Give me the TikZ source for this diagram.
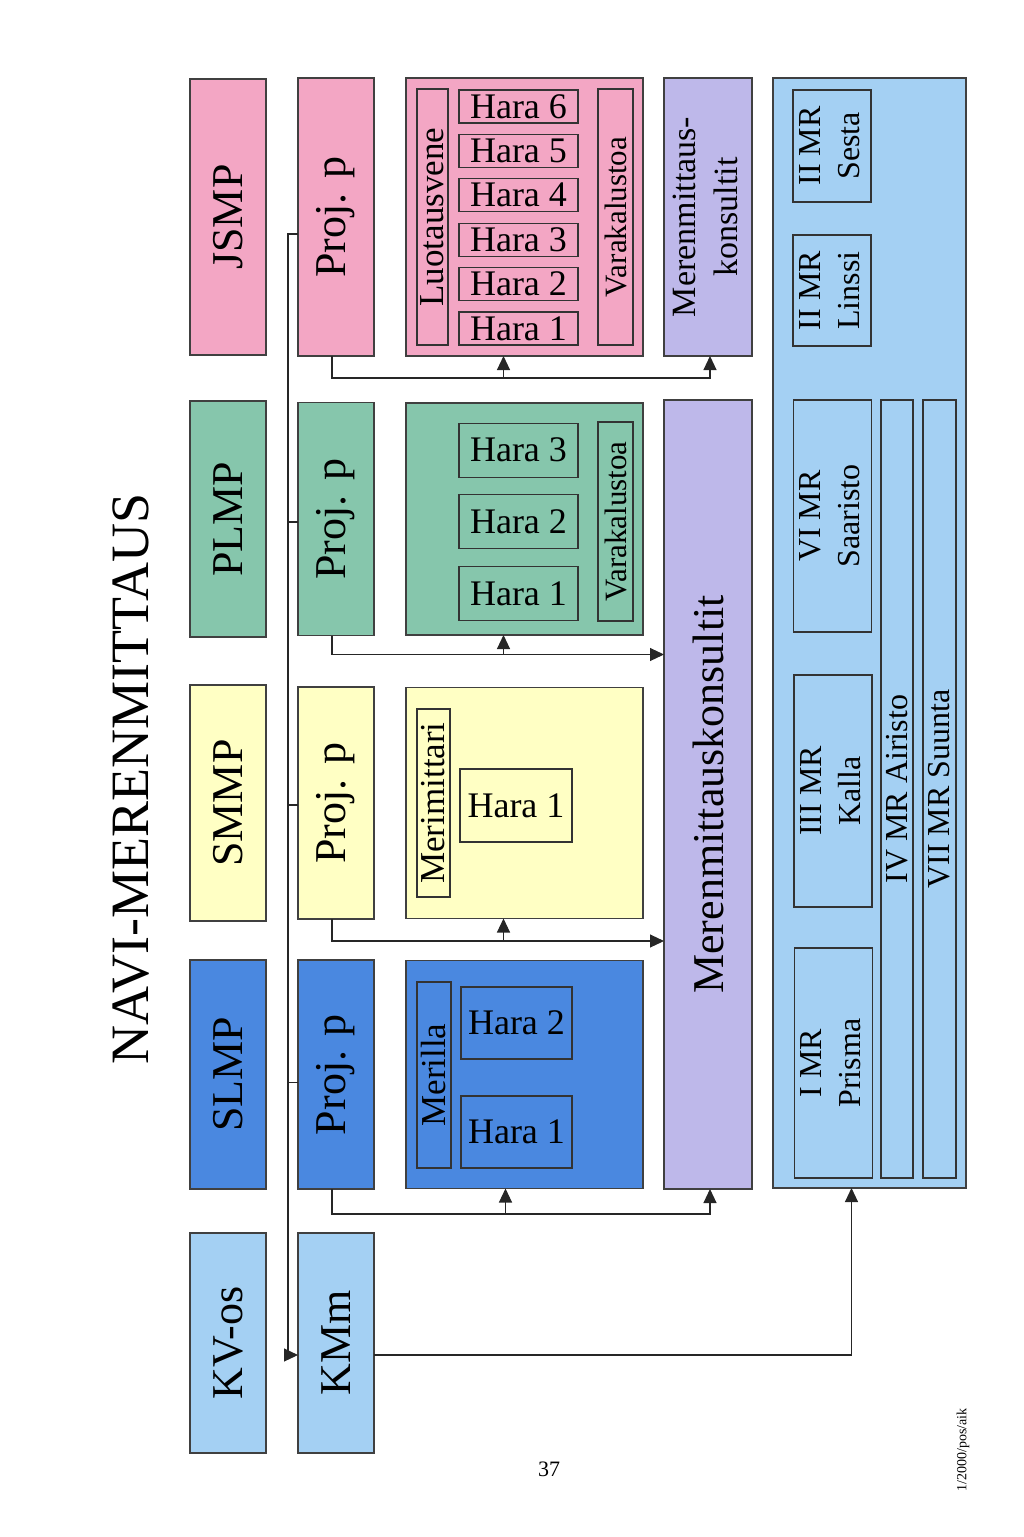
\documentclass[tikz,border=0pt]{standalone}
\usepackage{fontspec}
\setmainfont{Liberation Serif}
\usetikzlibrary{positioning, arrows.meta}
\definecolor{jspink}{RGB}{243,166,196}
\definecolor{plgreen}{RGB}{134,198,172}
\definecolor{smyellow}{RGB}{255,255,196}
\definecolor{slblue}{RGB}{74,136,224}
\definecolor{kvblue}{RGB}{164,208,243}
\definecolor{kolila}{RGB}{190,184,234}
\begin{document}
\begin{tikzpicture}[x=1pt, y=1pt,
  box/.style={draw=black!75, line width=1.2pt, inner sep=0pt, outer sep=0pt},
  top/.style={box, minimum width=76pt, font=\fontsize{44}{50}\selectfont},
  sub/.style={draw=black!80, line width=1.1pt, inner sep=0pt, outer sep=0pt},
  hara/.style={sub, font=\fontsize{36}{40}\selectfont},
  mrbox/.style={sub, font=\fontsize{32}{39}\selectfont},
  arr/.style={-{Triangle[length=14pt,width=13pt]}, line width=1.1pt, draw=black!85}]
  \useasboundingbox (0,0) rectangle (1024,-1537);

  \node[font=\fontsize{54}{60}\selectfont] (title) at (131,-779) {\rotatebox{90}{NAVI-MERENMITTAUS}};

  % main units
  \node[top, fill=jspink, minimum height=276pt] (jsmp) at (228,-217) {\rotatebox{90}{JSMP}};
  \node[top, fill=plgreen, minimum height=236pt] (plmp) at (228,-519) {\rotatebox{90}{PLMP}};
  \node[top, fill=smyellow, minimum height=236pt] (smmp) at (228,-803) {\rotatebox{90}{SMMP}};
  \node[top, fill=slblue, minimum height=229pt] (slmp) at (228,-1074.5) {\rotatebox{90}{SLMP}};
  \node[top, fill=kvblue, minimum height=220pt] (kvos) at (228,-1343) {\rotatebox{90}{KV-os}};

  % project managers
  \node[top, fill=jspink, minimum height=278pt, right=32pt of jsmp] (jsmpp) {\rotatebox{90}{Proj. p}};
  \node[top, fill=plgreen, minimum height=233pt, right=32pt of plmp] (plmpp) {\rotatebox{90}{Proj. p}};
  \node[top, fill=smyellow, minimum height=232pt, right=32pt of smmp] (smmpp) {\rotatebox{90}{Proj. p}};
  \node[top, fill=slblue, minimum height=229pt, right=32pt of slmp] (slmpp) {\rotatebox{90}{Proj. p}};
  \node[top, fill=kvblue, minimum height=220pt, right=32pt of kvos] (kmm) {\rotatebox{90}{KMm}};

  % vessels
  \node[box, fill=jspink, minimum width=237pt, minimum height=278pt, right=32pt of jsmpp] (jsmpu) {};
  \node[box, fill=plgreen, minimum width=237pt, minimum height=232pt, right=32pt of plmpp] (plmpu) {};
  \node[box, fill=smyellow, minimum width=237pt, minimum height=231pt, right=32pt of smmpp] (smmpu) {};
  \node[box, fill=slblue, minimum width=237pt, minimum height=228pt, right=32pt of slmpp] (slmpu) {};

  % JSMP vessels
  \node[sub, minimum width=31pt, minimum height=256pt, font=\fontsize{35}{40}\selectfont] (jluot) at (432.5,-217) {\rotatebox{90}{Luotausvene}};
  \foreach \i in {1,...,6}
    \node[hara, minimum width=119pt, minimum height=33pt] (jhara\i) at (518.5,{-328.5+44.4*(\i-1)}) {Hara \i};
  \node[sub, minimum width=35pt, minimum height=256pt, font=\fontsize{31}{36}\selectfont] (jvara) at (615.5,-217) {\rotatebox{90}{Varakalustoa}};

  % PLMP vessels
  \foreach \i in {1,2,3}
    \node[hara, minimum width=119pt, minimum height=54pt] (phara\i) at (518.5,{-593.5+71.7*(\i-1)}) {Hara \i};
  \node[sub, minimum width=35pt, minimum height=199pt, font=\fontsize{31}{36}\selectfont] (pvara) at (615.5,-521.5) {\rotatebox{90}{Varakalustoa}};

  % SMMP vessels
  \node[sub, minimum width=33pt, minimum height=188pt, font=\fontsize{35}{40}\selectfont] (smeri) at (433.5,-803) {\rotatebox{90}{Merimittari}};
  \node[hara, minimum width=112pt, minimum height=73pt] (shara1) at (516,-805.5) {Hara 1};

  % SLMP vessels
  \node[sub, minimum width=34pt, minimum height=186pt, font=\fontsize{35}{40}\selectfont] (lmeri) at (434,-1075) {\rotatebox{90}{Merilla}};
  \node[hara, minimum width=111pt, minimum height=72pt] (lhara2) at (516.5,-1023) {Hara 2};
  \node[hara, minimum width=111pt, minimum height=72pt] (lhara1) at (516.5,-1132) {Hara 1};

  % consultants
  \node[box, fill=kolila, minimum width=88pt, minimum height=278pt, font=\fontsize{34}{42}\selectfont] (jsmpk) at (708,-217) {\rotatebox{90}{\begin{tabular}{@{}c@{}}Merenmittaus-\\konsultit\end{tabular}}};
  \node[box, fill=kolila, minimum width=88pt, minimum height=789pt, font=\fontsize{44}{50}\selectfont] (konsult) at (708,-794.5) {\rotatebox{90}{Merenmittauskonsultit}};

  % survey vessels
  \node[box, fill=kvblue, minimum width=193pt, minimum height=1110pt] (mr) at (869.5,-633) {};
  \node[mrbox, minimum width=76pt, minimum height=112pt] (sesta) at (832,-146) {\rotatebox{90}{\begin{tabular}{@{}c@{}}II MR\\Sesta\end{tabular}}};
  \node[mrbox, minimum width=76pt, minimum height=111pt] (linssi) at (832,-290.5) {\rotatebox{90}{\begin{tabular}{@{}c@{}}II MR\\Linssi\end{tabular}}};
  \node[mrbox, minimum width=77pt, minimum height=232pt] (saaristo) at (832.5,-516) {\rotatebox{90}{\begin{tabular}{@{}c@{}}VI MR\\Saaristo\end{tabular}}};
  \node[mrbox, minimum width=76pt, minimum height=232pt] (kalla) at (833,-791) {\rotatebox{90}{\begin{tabular}{@{}c@{}}III MR\\Kalla\end{tabular}}};
  \node[mrbox, minimum width=77pt, minimum height=230pt] (prisma) at (833.5,-1063) {\rotatebox{90}{\begin{tabular}{@{}c@{}}I MR\\Prisma\end{tabular}}};
  \node[mrbox, minimum width=32pt, minimum height=778pt] (airisto) at (897,-789) {\rotatebox{90}{IV MR Airisto}};
  \node[mrbox, minimum width=33pt, minimum height=778pt] (suunta) at (939.5,-789) {\rotatebox{90}{VII MR Suunta}};

  % bus to KMm
  \draw[arr] ([yshift=-17pt]jsmpp.west) -- ++(-10,0) |- ([yshift=-12pt]kmm.west);
  \draw[line width=1.1pt, draw=black!85] ([yshift=-3pt]plmpp.west) -- ++(-10,0);
  \draw[line width=1.1pt, draw=black!85] ([yshift=-2pt]smmpp.west) -- ++(-10,0);
  \draw[line width=1.1pt, draw=black!85] ([yshift=-8pt]slmpp.west) -- ++(-10,0);

  % JSMP
  \draw[arr] ([xshift=-4pt]jsmpp.south) -- ++(0,-22) coordinate (j1) -| ([xshift=2pt]jsmpk.south);
  \draw[arr] ([xshift=-21pt]jsmpu.south |- j1) -- ([xshift=-21pt]jsmpu.south);
  % PLMP
  \draw[arr] ([xshift=-4pt]plmpp.south) -- ++(0,-19) coordinate (p1) -- (p1 -| konsult.west);
  \draw[arr] ([xshift=-21pt]plmpu.south |- p1) -- ([xshift=-21pt]plmpu.south);
  % SMMP
  \draw[arr] ([xshift=-4pt]smmpp.south) -- ++(0,-22) coordinate (s1) -- (s1 -| konsult.west);
  \draw[arr] ([xshift=-21pt]smmpu.south |- s1) -- ([xshift=-21pt]smmpu.south);
  % SLMP
  \draw[arr] ([xshift=-4pt]slmpp.south) -- ++(0,-25) coordinate (l1) -| ([xshift=2pt]konsult.south);
  \draw[arr] ([xshift=-19pt]slmpu.south |- l1) -- ([xshift=-19pt]slmpu.south);
  % KMm
  \draw[arr] ([yshift=-12pt]kmm.east) -| ([xshift=-18pt]mr.south);

  \node[font=\fontsize{22}{26}\selectfont] (page) at (549,-1469) {37};
  \node[font=\fontsize{14}{16}\selectfont] (code) at (963,-1450) {\rotatebox{90}{1/2000/pos/aik}};
\end{tikzpicture}
\end{document}
